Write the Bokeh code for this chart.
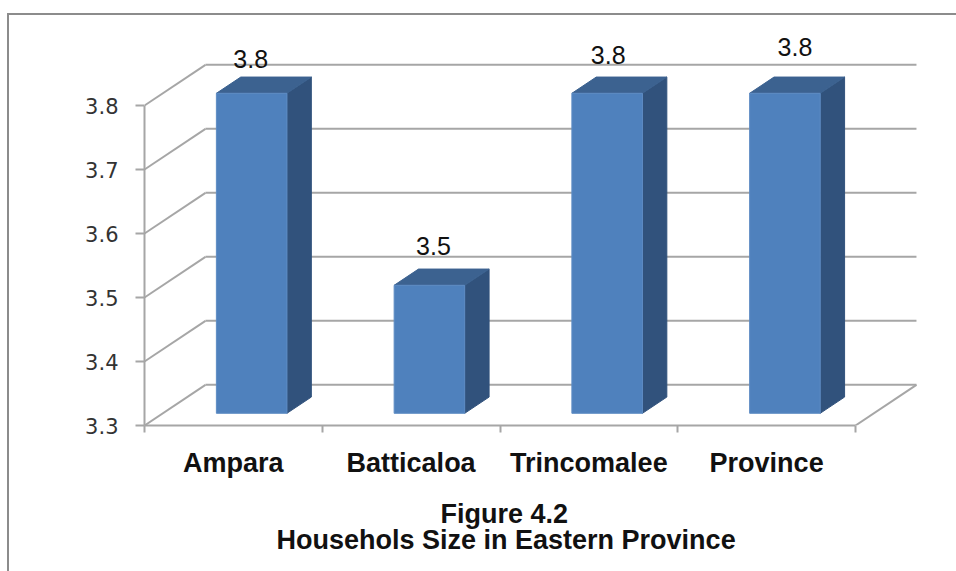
from bokeh.plotting import figure
from bokeh.embed import file_html
from bokeh.resources import INLINE
from bokeh.models import LinearAxis, FixedTicker, Range1d, Title, ColumnDataSource
from bokeh.core.properties import value

categories = ["Ampara", "Batticaloa", "Trincomalee", "Province"]
household_size = [3.8, 3.5, 3.8, 3.8]
value_labels = ["3.8", "3.5", "3.8", "3.8"]
y_ticks = [3.3, 3.4, 3.5, 3.6, 3.7, 3.8]
y_tick_labels = ["3.3", "3.4", "3.5", "3.6", "3.7", "3.8"]
title_lines = ["Figure 4.2", "Househols Size in Eastern Province"]

# layout of the fake 3D box
W, H = 956, 571
FRAME_L, FRAME_B = 144, 425
BACK_DX, BACK_DY = 0.343, 0.0635
BAR_W = 0.397
D0, D1 = 0.30, 0.70
Y0 = 3.3
label_dx = [-1, 4, 1, 10]
label_dy = [34, 39, 38, 46]
caption_left = [440, 276]
caption_standoff = [33, -41]
caption_valign = ["bottom", "top"]

GRID = "#A6A6A6"
EDGE = "linear-gradient(#8C8C8C, #8C8C8C)"
p = figure(width=W, height=H, output_backend="svg", toolbar_location=None,
           x_range=Range1d(0, (W - FRAME_L) / 177.75), y_range=Range1d(Y0, Y0 + FRAME_B / 640),
           x_axis_type=None, y_axis_type=None,
           min_border_left=FRAME_L, min_border_right=0, min_border_top=0, min_border_bottom=H - FRAME_B,
           outline_line_color=None, background_fill_alpha=0, border_fill_alpha=0)
p.styles = {"background-image": f"{EDGE}, {EDGE}",
            "background-size": "2px 558px, 949px 2px",
            "background-position": "7px 13px, 7px 13px",
            "background-repeat": "no-repeat"}
p.grid.visible = False

def pt(x, v, d):
    return x + d * BACK_DX, v + d * BACK_DY

# walls: side diagonals and back horizontals
n = len(categories)
xa, ya, xb, yb = [], [], [], []
for t in y_ticks:
    x1, y1 = pt(0, t, 1)
    xa += [0, x1]; ya += [t, y1]; xb += [x1, n + BACK_DX]; yb += [y1, y1]
xa.append(n); ya.append(Y0); xb.append(n + BACK_DX); yb.append(Y0 + BACK_DY)
p.segment(xa, ya, xb, yb, line_color=GRID, line_width=2)

# bars
front_x, front_y, side_x, side_y, top_x, top_y = [], [], [], [], [], []
for i, v in enumerate(household_size):
    c = i + 0.5 + D0 * BACK_DX
    l, r = c - BAR_W / 2, c + BAR_W / 2
    b0, t0 = Y0 + D0 * BACK_DY, v + D0 * BACK_DY
    ddx, ddy = (D1 - D0) * BACK_DX, (D1 - D0) * BACK_DY
    front_x.append([l, r, r, l]); front_y.append([b0, b0, t0, t0])
    side_x.append([r, r + ddx, r + ddx, r]); side_y.append([b0, b0 + ddy, t0 + ddy, t0])
    top_x.append([l, r, r + ddx, l + ddx]); top_y.append([t0, t0, t0 + ddy, t0 + ddy])
p.patches(side_x, side_y, fill_color="#31527C", line_color="#31527C", line_width=1)
p.patches(top_x, top_y, fill_color="#3C6290", line_color="#3C6290", line_width=1)
p.patches(front_x, front_y, fill_color="#4F81BD", line_color="#5E8CC4", line_width=1)

src = ColumnDataSource(dict(
    x=[i + 0.5 + D0 * BACK_DX for i in range(n)],
    y=[v + D0 * BACK_DY for v in household_size],
    t=value_labels, dx=label_dx, dy=[-d for d in label_dy]))
p.text("x", "y", text="t", source=src, x_offset="dx", y_offset="dy",
       text_font=value("Liberation Sans"), text_font_size="25px", text_color="#111111",
       text_align="center", text_baseline="middle")

# axes
yax = LinearAxis(ticker=FixedTicker(ticks=y_ticks), bounds=(3.3, 3.8),
                 major_label_overrides=dict(zip(y_ticks, y_tick_labels)))
yax.axis_line_color = GRID; yax.axis_line_width = 2
yax.major_tick_line_color = GRID; yax.major_tick_line_width = 2
yax.major_tick_in = 0; yax.major_tick_out = 9
yax.minor_tick_line_color = None
yax.major_label_standoff = 17
yax.major_label_text_font = "DejaVu Sans"
yax.major_label_text_font_size = "21px"
yax.major_label_text_color = "#333333"
p.add_layout(yax, "left")

centers = [i + 0.5 for i in range(n)]
xax = LinearAxis(ticker=FixedTicker(ticks=centers, minor_ticks=list(range(n + 1))), bounds=(0, n),
                 major_label_overrides=dict(zip(centers, categories)))
xax.axis_line_color = GRID; xax.axis_line_width = 2
xax.major_tick_line_color = None
xax.major_tick_in = 0; xax.major_tick_out = 0
xax.minor_tick_line_color = GRID; xax.minor_tick_line_width = 2
xax.minor_tick_in = 0; xax.minor_tick_out = 7
xax.major_label_standoff = 15
xax.major_label_text_font = "Liberation Sans"
xax.major_label_text_font_style = "bold"
xax.major_label_text_font_size = "27px"
xax.major_label_text_color = "#111111"
p.add_layout(xax, "below")

# caption, two lines under the axis
for txt, left, st, va in zip(title_lines, caption_left, caption_standoff, caption_valign):
    p.add_layout(Title(text=txt, align="left", offset=left - FRAME_L, standoff=st, vertical_align=va,
                       text_font="Liberation Sans", text_font_style="bold", text_font_size="27px",
                       text_color="#111111"), "below")

open("out.html", "w").write(file_html(p, INLINE))
